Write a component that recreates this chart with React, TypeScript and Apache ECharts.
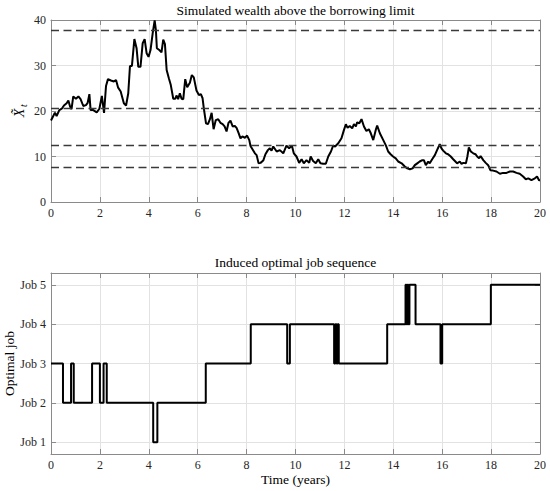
import React, { useEffect, useRef } from "react";
import * as echarts from "echarts";

// Simulated wealth path (time in years, wealth above borrowing limit)
const wealthT = [
  0.0, 0.16, 0.23, 0.34, 0.44, 0.53, 0.64, 0.71, 0.78, 0.84, 0.91, 1.02, 1.12, 1.21, 1.32, 1.43, 1.5, 1.57, 1.62, 1.73,
  1.87, 1.98, 2.08, 2.17, 2.25, 2.33, 2.45, 2.57, 2.66, 2.74, 2.85, 2.98, 3.07, 3.16, 3.23, 3.31, 3.41, 3.5, 3.57, 3.66,
  3.75, 3.83, 3.91, 3.99, 4.07, 4.16, 4.24, 4.29, 4.33, 4.43, 4.52, 4.59, 4.66, 4.73, 4.82, 4.9, 5.0, 5.08, 5.14, 5.2,
  5.27, 5.34, 5.41, 5.49, 5.57, 5.68, 5.76, 5.84, 5.95, 6.05, 6.13, 6.2, 6.25, 6.34, 6.42, 6.5, 6.57, 6.65, 6.74, 6.84,
  6.93, 7.02, 7.1, 7.18, 7.26, 7.34, 7.43, 7.52, 7.59, 7.67, 7.75, 7.83, 7.93, 8.02, 8.11, 8.16, 8.24, 8.34, 8.41, 8.49,
  8.57, 8.68, 8.77, 8.87, 8.95, 9.02, 9.09, 9.23, 9.36, 9.5, 9.63, 9.74, 9.85, 9.93, 10.04, 10.15, 10.25, 10.34, 10.45, 10.56,
  10.62, 10.72, 10.83, 10.93, 11.02, 11.13, 11.24, 11.34, 11.45, 11.54, 11.62, 11.75, 11.88, 11.98, 12.06, 12.13, 12.22, 12.32, 12.39, 12.47,
  12.52, 12.61, 12.7, 12.8, 12.9, 13.0, 13.08, 13.18, 13.29, 13.34, 13.45, 13.59, 13.7, 13.79, 13.89, 13.99, 14.1, 14.2, 14.34, 14.47,
  14.57, 14.68, 14.79, 14.88, 14.98, 15.08, 15.19, 15.25, 15.33, 15.43, 15.49, 15.59, 15.7, 15.79, 15.9, 15.97, 16.04, 16.15, 16.24, 16.35,
  16.45, 16.54, 16.61, 16.72, 16.79, 16.86, 16.97, 17.03, 17.09, 17.17, 17.27, 17.36, 17.43, 17.51, 17.57, 17.68, 17.78, 17.88, 17.97, 18.08,
  18.22, 18.36, 18.49, 18.63, 18.77, 18.9, 19.04, 19.17, 19.31, 19.42, 19.52, 19.65, 19.79, 19.88, 19.96, 20.0,
];
const wealthX = [
  17.9, 19.6, 18.9, 20.2, 20.5, 21.2, 21.7, 22.3, 21.0, 20.4, 23.2, 22.7, 23.2, 22.6, 21.1, 21.3, 21.8, 23.7, 20.2, 20.2,
  19.7, 20.5, 23.3, 19.6, 25.5, 27.0, 26.7, 26.5, 26.8, 25.2, 24.3, 21.7, 21.2, 23.9, 29.9, 29.9, 35.8, 33.8, 29.7, 29.7,
  34.9, 35.8, 32.7, 31.9, 33.4, 37.1, 39.9, 37.8, 33.8, 33.4, 32.9, 35.7, 34.7, 29.0, 27.2, 25.7, 22.7, 22.7, 23.4, 22.6,
  23.9, 22.7, 22.6, 27.0, 25.2, 26.2, 27.9, 27.4, 24.5, 23.5, 23.7, 22.8, 20.6, 17.3, 17.1, 18.2, 19.6, 16.0, 18.0, 18.2,
  17.4, 17.1, 16.6, 15.5, 17.4, 17.9, 16.6, 16.7, 16.3, 15.2, 14.0, 14.4, 14.1, 14.6, 13.6, 12.3, 11.6, 10.7, 10.3, 8.5,
  8.6, 9.1, 10.5, 11.4, 11.8, 11.3, 12.2, 11.1, 11.4, 10.7, 12.4, 11.8, 12.4, 10.7, 10.0, 8.6, 9.4, 8.5, 9.2, 8.6,
  10.0, 9.0, 8.5, 9.4, 8.5, 8.4, 8.4, 10.0, 11.1, 12.4, 12.2, 12.9, 14.0, 15.8, 17.1, 16.3, 16.7, 16.2, 17.1, 16.6,
  17.5, 17.3, 18.2, 16.6, 15.6, 16.0, 15.1, 13.6, 16.0, 16.8, 15.1, 13.6, 12.4, 11.1, 10.5, 10.0, 9.6, 8.9, 8.5, 7.8,
  7.4, 7.2, 7.4, 8.1, 8.5, 8.9, 9.2, 9.2, 8.1, 8.9, 8.5, 9.4, 10.3, 11.4, 12.7, 11.8, 11.3, 10.7, 10.5, 10.0,
  9.4, 8.9, 8.5, 8.9, 8.4, 8.6, 8.5, 10.0, 12.0, 11.1, 10.7, 10.5, 10.0, 9.6, 10.1, 9.2, 8.6, 8.1, 7.0, 6.9,
  6.7, 6.2, 6.4, 6.4, 6.7, 6.7, 6.4, 6.2, 5.6, 5.0, 5.2, 4.8, 5.2, 5.6, 4.8, 4.8,
];

// Wealth thresholds (dashed lines)
const thresholds = [37.8, 20.7, 12.4, 7.55];

// Job switch times and the job held from each time on
const jobT = [0, 0.49, 0.82, 0.93, 1.68, 2.0, 2.15, 2.28, 4.18, 4.35, 6.33, 8.17, 9.66, 9.77, 11.58, 11.63, 11.68, 11.72, 11.77, 13.75, 14.5, 14.54, 14.58, 14.62, 14.66, 14.91, 15.93, 16.0, 17.99, 20];
const jobV = [3, 2, 3, 2, 3, 2, 3, 2, 1, 2, 3, 4, 3, 4, 3, 4, 3, 4, 3, 4, 5, 4, 5, 4, 5, 4, 3, 4, 5, 5];

const jobLabels = ["Job 1", "Job 2", "Job 3", "Job 4", "Job 5"];

const FONT = "'Liberation Serif', 'Times New Roman', serif";
const AXIS = "#8a8a8a";
const GRID = "#e2e2e2";
const TXT = "#262626";

export default function App() {
  const ref = useRef<HTMLDivElement>(null);

  useEffect(() => {
    if (!ref.current) return;
    const chart = echarts.init(ref.current, null, { renderer: "svg" });

    const mkX = (gridIndex: number, top: boolean) => ({
      type: "value",
      gridIndex,
      position: top ? "top" : "bottom",
      min: 0,
      max: 20,
      interval: 2,
      axisLine: { show: true, onZero: false, lineStyle: { color: AXIS, width: 1 } },
      axisTick: { show: true, inside: true, length: 5, lineStyle: { color: AXIS } },
      axisLabel: {
        show: !top,
        color: TXT,
        fontFamily: FONT,
        fontSize: 12,
        margin: 5,
      },
      splitLine: { show: !top, lineStyle: { color: GRID, width: 1 } },
    });

    const mkYTop = (right: boolean) => ({
      type: "value",
      gridIndex: 0,
      position: right ? "right" : "left",
      min: 0,
      max: 40,
      interval: 10,
      axisLine: { show: true, onZero: false, lineStyle: { color: AXIS, width: 1 } },
      axisTick: { show: true, inside: true, length: 5, lineStyle: { color: AXIS } },
      axisLabel: { show: !right, color: TXT, fontFamily: FONT, fontSize: 12, margin: 5 },
      splitLine: { show: !right, lineStyle: { color: GRID, width: 1 } },
    });

    const mkYBot = (right: boolean) => ({
      type: "value",
      gridIndex: 1,
      position: right ? "right" : "left",
      min: 0.7,
      max: 5.3,
      splitNumber: 5,
      axisLine: { show: true, onZero: false, lineStyle: { color: AXIS, width: 1 } },
      axisTick: { show: true, inside: true, length: 5, lineStyle: { color: AXIS } },
      axisLabel: {
        show: !right,
        color: TXT,
        fontFamily: FONT,
        fontSize: 12,
        margin: 5,
        showMinLabel: false,
        showMaxLabel: false,
        formatter: (v: number) => {
          const i = Math.round(v);
          return Math.abs(v - i) < 1e-6 && i >= 1 && i <= 5 ? jobLabels[i - 1] : "";
        },
      },
      splitLine: { show: !right, lineStyle: { color: GRID, width: 1 } },
    });

    const wealthData = wealthT.map((t, i) => [t, wealthX[i]]);
    const jobData = jobT.map((t, i) => [t, jobV[i]]);

    const option: any = {
      animation: false,
      backgroundColor: "#ffffff",
      grid: [
        { left: 51, top: 20, width: 489, height: 182 },
        { left: 51, top: 273, width: 489, height: 181 },
      ],
      xAxis: [mkX(0, false), mkX(0, true), mkX(1, false), mkX(1, true)],
      yAxis: [mkYTop(false), mkYTop(true), mkYBot(false), mkYBot(true)],
      series: [
        {
          type: "line",
          name: "Wealth",
          xAxisIndex: 0,
          yAxisIndex: 0,
          data: wealthData,
          showSymbol: false,
          symbol: "none",
          lineStyle: { color: "#000000", width: 2 },
          z: 3,
          markLine: {
            silent: true,
            symbol: ["none", "none"],
            label: { show: false },
            lineStyle: { color: "#3a3a3a", width: 1.3, type: [8, 4.5] },
            data: thresholds.map((v) => ({ yAxis: v })),
          },
        },
        {
          type: "line",
          name: "Job",
          xAxisIndex: 2,
          yAxisIndex: 2,
          data: jobData,
          step: "end",
          showSymbol: false,
          symbol: "none",
          lineStyle: { color: "#000000", width: 2 },
          z: 3,
        },
      ],
      graphic: [
        {
          type: "text",
          x: 295.5,
          y: 10,
          style: {
            text: "Simulated wealth above the borrowing limit",
            font: `13.5px ${FONT}`,
            fill: "#000",
            textAlign: "center",
            textVerticalAlign: "middle",
          },
        },
        {
          type: "text",
          x: 295.5,
          y: 262,
          style: {
            text: "Induced optimal job sequence",
            font: `13.5px ${FONT}`,
            fill: "#000",
            textAlign: "center",
            textVerticalAlign: "middle",
          },
        },
        {
          type: "text",
          x: 19,
          y: 113,
          rotation: Math.PI / 2,
          style: {
            text: "X\u0303",
            font: `italic 14px ${FONT}`,
            fill: "#000",
            textAlign: "center",
            textVerticalAlign: "middle",
          },
        },
        {
          type: "text",
          x: 23,
          y: 105.5,
          rotation: Math.PI / 2,
          style: {
            text: "t",
            font: `italic 10px ${FONT}`,
            fill: "#000",
            textAlign: "center",
            textVerticalAlign: "middle",
          },
        },
        {
          type: "text",
          x: 9,
          y: 363.5,
          rotation: Math.PI / 2,
          style: {
            text: "Optimal job",
            font: `13.5px ${FONT}`,
            fill: "#000",
            textAlign: "center",
            textVerticalAlign: "middle",
          },
        },
        {
          type: "text",
          x: 295.5,
          y: 479,
          style: {
            text: "Time (years)",
            font: `13.5px ${FONT}`,
            fill: "#000",
            textAlign: "center",
            textVerticalAlign: "middle",
          },
        },
      ],
    };

    chart.setOption(option);
    return () => chart.dispose();
  }, []);

  return (
    <div
      ref={ref}
      style={{ position: "absolute", left: 0, top: 0, width: 550, height: 491 }}
    />
  );
}
